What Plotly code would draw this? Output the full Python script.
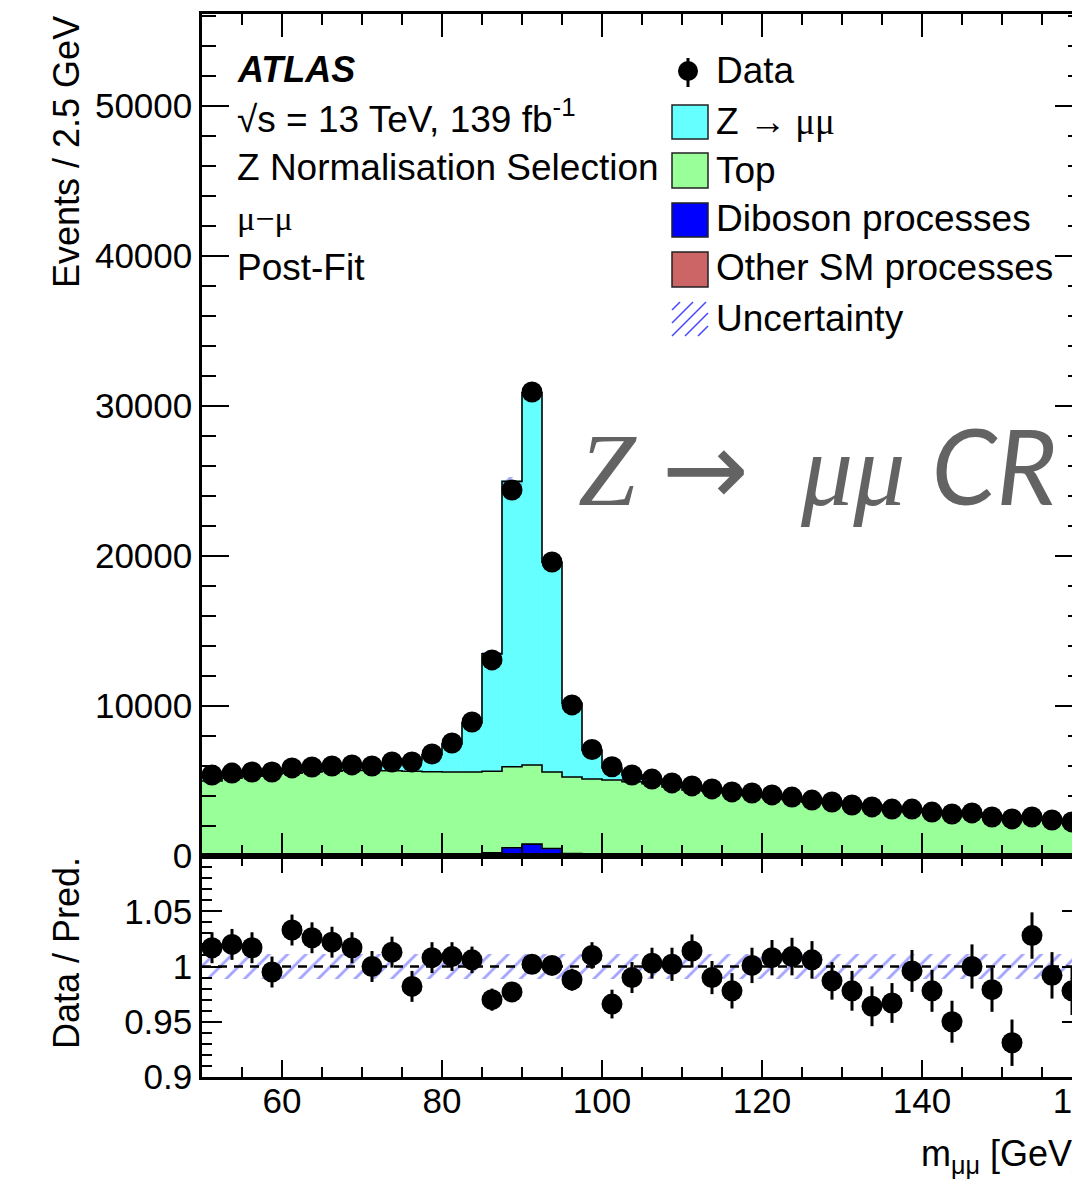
import plotly.graph_objects as go

# ---------------- data ----------------
bin_lo = [50.0, 52.5, 55.0, 57.5, 60.0, 62.5, 65.0, 67.5, 70.0, 72.5,
          75.0, 77.5, 80.0, 82.5, 85.0, 87.5, 90.0, 92.5, 95.0, 97.5,
          100.0, 102.5, 105.0, 107.5, 110.0, 112.5, 115.0, 117.5, 120.0, 122.5,
          125.0, 127.5, 130.0, 132.5, 135.0, 137.5, 140.0, 142.5, 145.0, 147.5,
          150.0, 152.5, 155.0, 157.5]
bin_width = 2.5

data_events = [5400, 5530, 5600, 5600, 5870, 5930, 6000, 6070, 6000, 6270,
               6270, 6800, 7530, 8930, 13070, 24400, 30930, 19600, 10070, 7100,
               5950, 5400, 5130, 4870, 4670, 4470, 4270, 4200, 4070, 3930,
               3730, 3600, 3400, 3270, 3130, 3130, 2930, 2800, 2870, 2600,
               2470, 2600, 2400, 2270]

zmm = [310, 250, 210, 200, 200, 220, 250, 300, 350, 500,
       735, 1126, 1863, 3277, 7824, 19024, 24800, 13980, 4922, 1900,
       800, 450, 300, 250, 210, 190, 170, 150, 140, 130,
       120, 110, 100, 95, 90, 85, 80, 75, 70, 65,
       60, 58, 55, 52]

top = [4950, 5130, 5270, 5400, 5470, 5550, 5610, 5650, 5650, 5630,
       5600, 5570, 5515, 5470, 5430, 5400, 5280, 5100, 5110, 5040,
       4995, 4895, 4775, 4570, 4355, 4285, 4156, 4006, 3858, 3725,
       3548, 3497, 3336, 3257, 3107, 3018, 2876, 2832, 2760, 2551,
       2553, 2431, 2324, 2229]

diboson = [30, 30, 30, 30, 30, 30, 30, 30, 30, 30,
           30, 30, 60, 100, 180, 450, 650, 400, 120, 60,
           50, 35, 25, 25, 25, 25, 25, 25, 25, 25,
           25, 25, 25, 25, 25, 25, 25, 25, 25, 25,
           25, 25, 25, 25]

other_sm = [20, 20, 20, 20, 20, 20, 20, 20, 20, 20,
            20, 20, 25, 30, 40, 100, 140, 100, 40, 30,
            25, 20, 15, 15, 15, 15, 15, 15, 15, 15,
            15, 15, 15, 15, 15, 15, 15, 15, 15, 15,
            15, 15, 15, 15]

ratio = [1.017, 1.020, 1.017, 0.995, 1.033, 1.026, 1.022, 1.017, 1.000, 1.013,
         0.982, 1.008, 1.009, 1.006, 0.970, 0.977, 1.002, 1.001, 0.988, 1.010,
         0.966, 0.990, 1.003, 1.002, 1.014, 0.990, 0.978, 1.001, 1.008, 1.009,
         1.006, 0.987, 0.978, 0.964, 0.967, 0.996, 0.978, 0.950, 1.000, 0.979,
         0.931, 1.028, 0.992, 0.978]

ratio_err = [0.014, 0.014, 0.014, 0.014, 0.014, 0.014, 0.014, 0.014, 0.014, 0.014,
             0.014, 0.014, 0.013, 0.012, 0.010, 0.007, 0.006, 0.007, 0.010, 0.012,
             0.013, 0.014, 0.014, 0.015, 0.015, 0.015, 0.016, 0.016, 0.016, 0.017,
             0.017, 0.017, 0.018, 0.018, 0.018, 0.019, 0.019, 0.019, 0.020, 0.020,
             0.021, 0.021, 0.021, 0.022]

rel_unc = [0.011, 0.011, 0.011, 0.011, 0.011, 0.011, 0.011, 0.011, 0.011, 0.011,
           0.011, 0.011, 0.011, 0.011, 0.011, 0.011, 0.011, 0.011, 0.011, 0.011,
           0.011, 0.011, 0.011, 0.011, 0.011, 0.011, 0.011, 0.011, 0.011, 0.011,
           0.011, 0.011, 0.011, 0.011, 0.011, 0.011, 0.011, 0.011, 0.011, 0.011,
           0.011, 0.011, 0.011, 0.011]

x_min, x_max = 50.0, 160.0
y_main_max = 56130
ratio_range = [0.9, 1.1]
ratio_ticks = [0.9, 0.95, 1.0, 1.05]
ratio_ticktext = ["0.9", "0.95", "1", "1.05"]

# ---------------- derived ----------------
n = len(bin_lo)
centers = [lo + bin_width / 2 for lo in bin_lo]
edges = bin_lo + [bin_lo[-1] + bin_width]
cum1 = [other_sm[i] for i in range(n)]
cum2 = [cum1[i] + diboson[i] for i in range(n)]
cum3 = [cum2[i] + top[i] for i in range(n)]
cum4 = [cum3[i] + zmm[i] for i in range(n)]

C_Z = "#66ffff"
C_TOP = "#99ff99"
C_DIB = "#0000ff"
C_OTH = "#cc6666"
C_HATCH = "#4a4aff"
FONT = "Liberation Sans"

# ---------------- layout geometry (pixels) ----------------
W, H = 1130, 1181
ML, MR, MT, MB = 202, 48, 14, 104
PW, PH = W - ML - MR, H - MT - MB


def px(x):
    return (x - ML) / PW


def py(y):
    return (H - MB - y) / PH


split = py(856)

fig = go.Figure()

# stacked components as bars
for base, vals, col in [([0] * n, other_sm, C_OTH),
                        (cum1, diboson, C_DIB),
                        (cum2, top, C_TOP),
                        (cum3, zmm, C_Z)]:
    fig.add_trace(go.Bar(x=centers, y=vals, base=base, width=bin_width,
                         marker=dict(color=col, line=dict(color=col, width=0.6)),
                         xaxis="x", yaxis="y", showlegend=False, hoverinfo="skip"))

hatch = dict(shape="/", fgcolor=C_HATCH, bgcolor="rgba(0,0,0,0)",
             size=13, solidity=0.22, fillmode="overlay")

# uncertainty hatch on total
fig.add_trace(go.Bar(x=centers, y=[2 * cum4[i] * rel_unc[i] for i in range(n)],
                     base=[cum4[i] * (1 - rel_unc[i]) for i in range(n)], width=bin_width,
                     marker=dict(color="rgba(0,0,0,0)", line=dict(width=0), pattern=hatch),
                     xaxis="x", yaxis="y", showlegend=False, hoverinfo="skip"))

# step outlines
for cum in [cum1, cum2, cum3, cum4]:
    fig.add_trace(go.Scatter(x=edges, y=cum + [cum[-1]], mode="lines",
                             line=dict(color="black", width=1.6, shape="hv"),
                             xaxis="x", yaxis="y", showlegend=False, hoverinfo="skip"))

# data points
fig.add_trace(go.Scatter(x=centers, y=data_events, mode="markers",
                         marker=dict(color="black", size=21, line=dict(width=0)),
                         xaxis="x", yaxis="y", showlegend=False))

# ratio panel: uncertainty band
fig.add_trace(go.Bar(x=centers, y=[2 * u for u in rel_unc], base=[1 - u for u in rel_unc],
                     width=bin_width,
                     marker=dict(color="rgba(0,0,0,0)", line=dict(width=0), pattern=hatch),
                     xaxis="x2", yaxis="y2", showlegend=False, hoverinfo="skip"))
fig.add_trace(go.Scatter(x=[x_min, x_max], y=[1, 1], mode="lines",
                         line=dict(color="black", width=2.5, dash="9px,7px"),
                         xaxis="x2", yaxis="y2", showlegend=False, hoverinfo="skip"))
fig.add_trace(go.Scatter(x=centers, y=ratio, mode="markers",
                         marker=dict(color="black", size=21, line=dict(width=0)),
                         error_y=dict(type="data", array=ratio_err, visible=True,
                                      thickness=3, width=0, color="black"),
                         xaxis="x2", yaxis="y2", showlegend=False))

axis_common = dict(showline=True, linecolor="black", linewidth=2.5, mirror="allticks",
                   ticks="inside", tickcolor="black", tickwidth=2, showgrid=False,
                   zeroline=False, automargin=False,
                   tickfont=dict(family=FONT, size=35, color="black"))

fig.update_layout(
    width=W, height=H,
    margin=dict(l=ML, r=MR, t=MT, b=MB, autoexpand=False),
    paper_bgcolor="white", plot_bgcolor="white",
    barmode="overlay", bargap=0,
    font=dict(family=FONT, color="black"),
    xaxis=dict(domain=[0, 1], anchor="y", range=[x_min, x_max], tick0=0, dtick=20,
               ticklen=23, showticklabels=False,
               minor=dict(dtick=5, tick0=0, ticklen=11, ticks="inside", tickwidth=2, tickcolor="black"),
               **axis_common),
    yaxis=dict(domain=[split, 1], anchor="x", range=[0, y_main_max], tick0=0, dtick=10000,
               ticklen=27, tickformat="d", ticklabelstandoff=0,
               minor=dict(dtick=2000, tick0=0, ticklen=14, ticks="inside", tickwidth=2, tickcolor="black"),
               **axis_common),
    xaxis2=dict(domain=[0, 1], anchor="y2", matches="x", range=[x_min, x_max], tick0=0, dtick=20,
                ticklen=17, ticklabelstandoff=-9,
                minor=dict(dtick=5, tick0=0, ticklen=10, ticks="inside", tickwidth=2, tickcolor="black"),
                **axis_common),
    yaxis2=dict(domain=[0, split], anchor="x2", range=ratio_range, tickvals=ratio_ticks,
                ticktext=ratio_ticktext, ticklen=20, ticklabelstandoff=0,
                minor=dict(dtick=0.01, tick0=0.9, ticklen=10, ticks="inside", tickwidth=2, tickcolor="black"),
                **axis_common),
)

ann = []


def text(x, y, s, size=36, xanchor="left", yanchor="middle", **kw):
    ann.append(dict(xref="paper", yref="paper", x=px(x), y=py(y), text=s, showarrow=False,
                    xanchor=xanchor, yanchor=yanchor,
                    font=dict(family=kw.pop("family", FONT), size=size, color=kw.pop("color", "black")),
                    **kw))


SER = "font-family:'Liberation Serif'"
# axis titles
text(66, 14, "Events / 2.5 GeV", size=36, xanchor="center", yanchor="top", textangle=-90)
text(66, 855, "Data / Pred.", size=36, xanchor="center", yanchor="top", textangle=-90)
text(919, 1156, "m<sub>μμ</sub> [GeV]", size=36, xanchor="left")

# labels block
text(235, 69, "<b><i>ATLAS</i></b>", size=36)
text(235, 117, "√s = 13 TeV, 139 fb<sup>-1</sup>", size=37)
text(235, 168, "Z Normalisation Selection", size=37)
text(235, 218, "μ−μ", size=34, family="Liberation Serif")
text(235, 268, "Post-Fit", size=37)

# legend texts
text(714, 71, "Data", size=37)
text(714, 121, f"Z <span style=\"{SER}\">→ μμ</span>", size=37)
text(714, 170, "Top", size=37)
text(714, 218, "Diboson processes", size=37)
text(714, 268, "Other SM processes", size=37)
text(714, 318, "Uncertainty", size=37)

# big region label
text(576, 466,
     "<i>Z</i> <span style=\"font-family:'DejaVu Sans'\">→</span>&nbsp; <i>μμ</i> "
     "<span style=\"font-family:'Lato'\"><i>CR</i></span>",
     size=104, family="Liberation Serif", color="#636363")

shapes = []
for (y0, y1, col) in [(105, 139, C_Z), (153, 188, C_TOP), (203, 237, C_DIB), (252, 287, C_OTH)]:
    shapes.append(dict(type="rect", xref="paper", yref="paper", x0=px(672), x1=px(708),
                       y0=py(y1), y1=py(y0), fillcolor=col, line=dict(color="#222222", width=1.5)))
# data legend marker
shapes.append(dict(type="line", xref="paper", yref="paper", x0=px(688), x1=px(688),
                   y0=py(87), y1=py(58), line=dict(color="black", width=3)))
shapes.append(dict(type="circle", xref="paper", yref="paper", x0=px(678), x1=px(698),
                   y0=py(81), y1=py(61), fillcolor="black", line=dict(color="black", width=0)))
# uncertainty legend hatch
bx0, bx1, by0, by1 = 672, 708, 302, 336
for k in range(-2, 3):
    xa, ya = bx0 + 13 * k, by1
    xb, yb = xa + 34, by0
    slope = (yb - ya) / (xb - xa)
    if xa < bx0:
        ya = ya + slope * (bx0 - xa)
        xa = bx0
    if xb > bx1:
        yb = yb - slope * (xb - bx1)
        xb = bx1
    if xb - xa > 2:
        shapes.append(dict(type="line", xref="paper", yref="paper", x0=px(xa), x1=px(xb),
                           y0=py(ya), y1=py(yb), line=dict(color=C_HATCH, width=1.6)))

fig.update_layout(annotations=ann, shapes=shapes)

fig.write_html("out.html",
               post_script="document.body.style.overflow='hidden';document.documentElement.style.overflow='hidden';")
